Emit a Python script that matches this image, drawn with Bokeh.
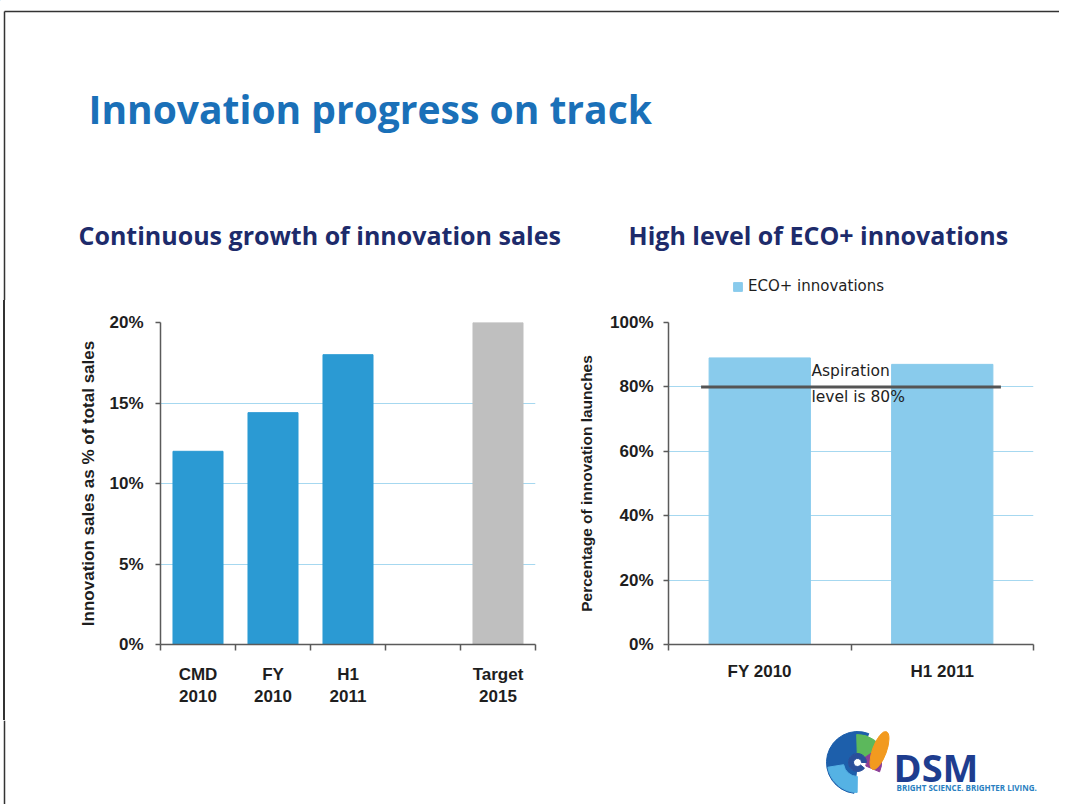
from bokeh.plotting import figure
from bokeh.models import (ColumnDataSource, Range1d, FixedTicker, PrintfTickFormatter,
                          Label, Legend, LegendItem, Div)
from bokeh.layouts import column, row
from bokeh.embed import file_html
from bokeh.resources import INLINE

# ---------------- data ----------------
left_categories = ["CMD\n2010", "FY\n2010", "H1\n2011", "", "Target\n2015"]
left_values = [12.0, 14.4, 18.0, None, 20.0]
left_ticks = [0, 5, 10, 15, 20]

right_categories = ["FY 2010", "H1 2011"]
right_values = [89.0, 87.0]
right_ticks = [0, 20, 40, 60, 80, 100]
aspiration_level = 80.0

title_text = "Innovation progress on track"
left_subtitle = "Continuous growth of innovation sales"
right_subtitle = "High level of ECO+ innovations"
left_ylabel = "Innovation sales as % of total sales"
right_ylabel = "Percentage of innovation launches"
legend_label = "ECO+ innovations"
aspiration_lines = ["Aspiration", "level is 80%"]

# ---------------- styles ----------------
left_colors = ["#2b9ad3", "#2b9ad3", "#2b9ad3", "#2b9ad3", "#bfbfbf"]
right_color = "#89cbec"
grid_color = "#a6d8f0"
axis_color = "#5a5a5a"
tick_text_color = "#1e1e1e"
title_color = "#1a70b8"
sub_color = "#1d2b6b"
border_color = "#333333"
AX_FONT = "Liberation Sans"

TOTAL_W = 1059
H_HEAD, H_ROW, H_FOOT = 300, 420, 84
W_STRIP, W_LEFT, W_RIGHT = 8, 560, 491


def blank(p):
    p.axis.visible = False
    p.grid.grid_line_color = None
    p.outline_line_color = None
    p.toolbar.logo = None


def style_axes(p, label_size):
    for ax in (p.xaxis[0], p.yaxis[0]):
        ax.axis_line_color = axis_color
        ax.axis_line_width = 1.5
        ax.major_label_text_font = AX_FONT
        ax.major_label_text_font_style = "bold"
        ax.major_label_text_font_size = label_size
        ax.major_label_text_color = tick_text_color
    ya = p.yaxis[0]
    ya.major_tick_line_color = axis_color
    ya.major_tick_line_width = 1.5
    ya.major_tick_out = 5
    ya.major_tick_in = 0
    ya.minor_tick_line_color = None
    ya.axis_label_text_font = AX_FONT
    ya.axis_label_text_font_style = "bold"
    ya.axis_label_text_color = tick_text_color
    xa = p.xaxis[0]
    xa.major_tick_line_color = None
    xa.major_tick_out = 5
    xa.major_tick_in = 0
    xa.minor_tick_line_color = axis_color
    xa.minor_tick_line_width = 1.5
    xa.minor_tick_out = 6
    xa.minor_tick_in = 0
    p.xgrid.grid_line_color = None
    p.ygrid.grid_line_color = grid_color
    p.ygrid.grid_line_width = 1
    p.outline_line_color = None
    p.toolbar.logo = None


# ---------------- header ----------------
header = figure(width=TOTAL_W, height=H_HEAD, x_range=Range1d(0, TOTAL_W),
                y_range=Range1d(H_HEAD, 0), output_backend="svg",
                toolbar_location=None, min_border=0)
blank(header)
header.segment(x0=[4], y0=[11], x1=[TOTAL_W], y1=[11], line_color=border_color, line_width=1.5)
header.segment(x0=[4], y0=[11], x1=[4], y1=[H_HEAD], line_color=border_color, line_width=1.5)
header.add_layout(Label(x=88, y=108, text=title_text, text_font="Open Sans",
                        text_font_style="bold", text_font_size="39px", text_color=title_color,
                        text_baseline="middle"))
header.add_layout(Label(x=78, y=234, text=left_subtitle, text_font="Open Sans",
                        text_font_style="bold", text_font_size="25px", text_color=sub_color,
                        text_baseline="middle"))
header.add_layout(Label(x=628, y=234, text=right_subtitle, text_font="Open Sans",
                        text_font_style="bold", text_font_size="25px", text_color=sub_color,
                        text_baseline="middle"))
# swatch renderer for the right chart's series legend (legend sits above that plot);
# its single bar lies outside the visible range, only its legend glyph is seen
leg_r = header.vbar(x=[-100], top=[0], width=1, color=right_color)
legend = Legend(items=[LegendItem(label=legend_label, renderers=[leg_r])],
                location=(732, 5), orientation="horizontal",
                glyph_width=11, glyph_height=11, label_standoff=5,
                padding=0, margin=0, spacing=0, label_height=11,
                label_text_font="DejaVu Sans", label_text_font_size="15px",
                label_text_color="#1e1e1e", border_line_color=None,
                background_fill_alpha=0)
header.add_layout(legend, "center")

# ---------------- left border strip ----------------
strip = Div(width=W_STRIP, height=H_ROW, margin=0,
            text=('<div style="position:absolute;left:3px;top:0px;width:1.5px;'
                  'height:%dpx;background:%s"></div>' % (H_ROW, border_color)))

# ---------------- left chart ----------------
n_left = len(left_categories)
lx = [i + 0.5 for i in range(n_left)]
src_l = ColumnDataSource(dict(
    x=[x for x, v in zip(lx, left_values) if v is not None],
    top=[v for v in left_values if v is not None],
    color=[c for c, v in zip(left_colors, left_values) if v is not None]))

pl = figure(width=W_LEFT, height=H_ROW, x_range=Range1d(0, n_left), y_range=Range1d(0, 20),
            output_backend="svg", toolbar_location=None,
            min_border_left=152, min_border_right=W_LEFT - 152 - 375,
            min_border_top=22, min_border_bottom=76)
pl.vbar(x="x", top="top", width=0.667, color="color", source=src_l)
pl.xaxis[0].ticker = FixedTicker(ticks=lx, minor_ticks=list(range(n_left + 1)))
pl.xaxis[0].major_label_overrides = {x: c for x, c in zip(lx, left_categories)}
pl.yaxis[0].ticker = FixedTicker(ticks=left_ticks)
pl.yaxis[0].formatter = PrintfTickFormatter(format="%d%%")
pl.yaxis[0].axis_label = left_ylabel
style_axes(pl, "17px")
pl.yaxis[0].axis_label_text_font_size = "17px"
pl.yaxis[0].major_label_standoff = 12
pl.yaxis[0].axis_label_standoff = 8
pl.xaxis[0].major_label_standoff = 14

# ---------------- right chart ----------------
n_right = len(right_categories)
rx = [i + 0.5 for i in range(n_right)]
bar_w = 0.555
src_r = ColumnDataSource(dict(x=rx, top=right_values))
pr = figure(width=W_RIGHT, height=H_ROW, x_range=Range1d(0, n_right), y_range=Range1d(0, 100),
            output_backend="svg", toolbar_location=None,
            min_border_left=100, min_border_right=W_RIGHT - 100 - 365,
            min_border_top=22, min_border_bottom=76)
pr.vbar(x="x", top="top", width=bar_w, color=right_color, source=src_r)
pr.xaxis[0].ticker = FixedTicker(ticks=rx, minor_ticks=list(range(n_right + 1)))
pr.xaxis[0].major_label_overrides = {x: c for x, c in zip(rx, right_categories)}
pr.yaxis[0].ticker = FixedTicker(ticks=right_ticks)
pr.yaxis[0].formatter = PrintfTickFormatter(format="%d%%")
pr.yaxis[0].axis_label = right_ylabel
style_axes(pr, "17px")
pr.yaxis[0].axis_label_text_font_size = "15.5px"
pr.yaxis[0].major_label_standoff = 10
pr.yaxis[0].axis_label_standoff = 12
pr.xaxis[0].major_label_standoff = 11

pad = 0.044
pr.segment(x0=[rx[0] - bar_w / 2 - pad], y0=[aspiration_level],
           x1=[rx[-1] + bar_w / 2 + pad], y1=[aspiration_level],
           line_color="#555555", line_width=3)
txt_x = rx[0] + bar_w / 2
pr.add_layout(Label(x=txt_x, y=aspiration_level + 4.8, text=aspiration_lines[0],
                    text_font="DejaVu Sans", text_font_size="15.5px", text_color="#1e1e1e",
                    text_baseline="middle", x_offset=1))
pr.add_layout(Label(x=txt_x, y=aspiration_level - 3.0, text=aspiration_lines[1],
                    text_font="DejaVu Sans", text_font_size="15.5px", text_color="#1e1e1e",
                    text_baseline="middle", x_offset=1))

# ---------------- footer with logo ----------------
footer = figure(width=TOTAL_W, height=H_FOOT, x_range=Range1d(0, TOTAL_W),
                y_range=Range1d(H_FOOT, 0), output_backend="svg",
                toolbar_location=None, min_border=0)
blank(footer)
footer.segment(x0=[4], y0=[0], x1=[4], y1=[H_FOOT], line_color=border_color, line_width=1.5)
cx, cy = 857, 42
footer.annular_wedge(x=[cx], y=[cy], inner_radius=[9], outer_radius=[31],
                     start_angle=[1.2], end_angle=[4.6], color="#1d5fab")
footer.annular_wedge(x=[cx], y=[cy], inner_radius=[14], outer_radius=[30],
                     start_angle=[3.3], end_angle=[4.7], color="#55b2e4")
footer.annular_wedge(x=[cx], y=[cy], inner_radius=[9], outer_radius=[28],
                     start_angle=[0.3], end_angle=[1.6], color="#5cb85c")
footer.annular_wedge(x=[cx], y=[cy], inner_radius=[9], outer_radius=[24],
                     start_angle=[-0.4], end_angle=[0.6], color="#8c3d97")
footer.ellipse(x=[cx + 22], y=[cy - 12], width=[14], height=[40], angle=[-0.35],
               color="#f29a1f")
footer.annular_wedge(x=[cx], y=[cy], inner_radius=[4], outer_radius=[9],
                     start_angle=[0], end_angle=[5.6], color="#2a4f9a")
footer.add_layout(Label(x=893, y=46, text="DSM", text_font="Open Sans", text_font_style="bold",
                        text_font_size="38px", text_color="#1e3d8f", text_baseline="middle"))
footer.add_layout(Label(x=896, y=67, text="BRIGHT SCIENCE. BRIGHTER LIVING.", text_font="Open Sans",
                        text_font_style="bold", text_font_size="8px", text_color="#2a7fc1",
                        text_baseline="middle"))

layout = column(header, row(strip, pl, pr), footer)

open("out.html", "w").write(file_html(layout, INLINE))
